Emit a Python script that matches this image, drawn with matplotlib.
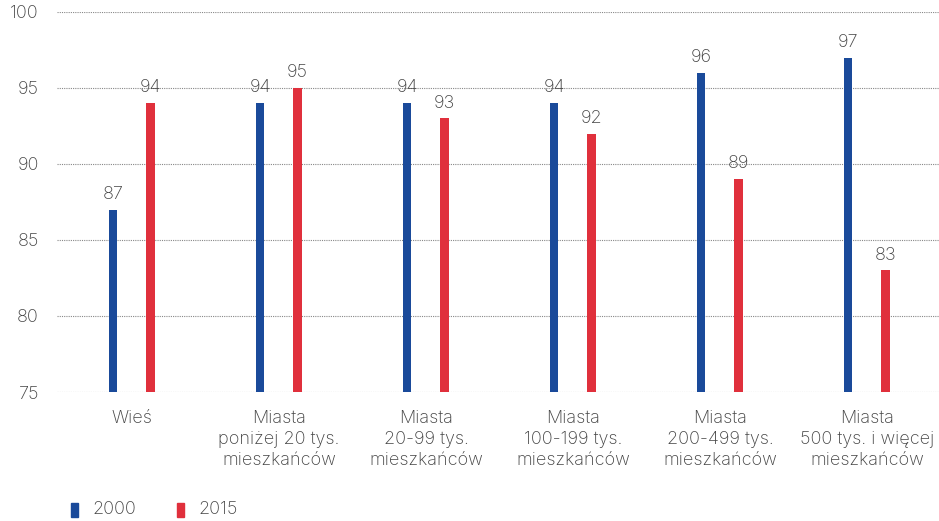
import matplotlib.pyplot as plt
import numpy as np

categories = ['Wieś', 'Miasta\nponiżej 20 tys.\nmieszkańców', 'Miasta\n20-99 tys.\nmieszkańców',
              'Miasta\n100-199 tys.\nmieszkańców', 'Miasta\n200-499 tys.\nmieszkańców',
              'Miasta\n500 tys. i więcej\nmieszkańców']
values_2000 = [87, 94, 94, 94, 96, 97]
values_2015 = [94, 95, 93, 92, 89, 83]
series_labels = ['2000', '2015']

blue = '#1a4a9a'
red = '#e0303c'
txt = '#444444'
plt.rcParams['font.family'] = ['Inter', 'DejaVu Sans']
plt.rcParams['font.weight'] = 'light'
fs = 13

fig = plt.figure(figsize=(9.39, 5.21), dpi=100)
ax = fig.add_axes([0.0607, 0.2476, 0.9393, 0.7294])

x = np.arange(len(categories))
off = 0.126
w = 0.055
ax.bar(x - off, np.array(values_2000) - 75, w, bottom=75, color=blue, zorder=3)
ax.bar(x + off, np.array(values_2015) - 75, w, bottom=75, color=red, zorder=3)
for xi, v in zip(x, values_2000):
    ax.text(xi - off, v + 0.45, str(v), ha='center', va='bottom', fontsize=fs, color=txt)
for xi, v in zip(x, values_2015):
    ax.text(xi + off, v + 0.45, str(v), ha='center', va='bottom', fontsize=fs, color=txt)

ax.set_ylim(75, 100)
ax.set_xlim(-0.51, 5.49)
ax.set_yticks([75, 80, 85, 90, 95, 100])
ax.yaxis.grid(True, linestyle=(0, (1, 1)), color='#888888', linewidth=0.8, zorder=0)
for s in ax.spines.values():
    s.set_visible(False)
ax.tick_params(axis='y', length=0, pad=13, labelsize=fs, labelcolor=txt)
ax.set_xticks(x)
ax.set_xticklabels(categories, fontsize=fs, color=txt, linespacing=1.3)
ax.tick_params(axis='x', length=0, pad=13)

# legend
fig.patches.append(plt.Rectangle((71 / 939, 1 - 517 / 521), 7 / 939, 14 / 521,
                                 transform=fig.transFigure, color=blue))
fig.text(92 / 939, 1 - 510 / 521, series_labels[0], fontsize=fs, color=txt, va='center')
fig.patches.append(plt.Rectangle((177 / 939, 1 - 517 / 521), 7 / 939, 14 / 521,
                                 transform=fig.transFigure, color=red))
fig.text(198 / 939, 1 - 510 / 521, series_labels[1], fontsize=fs, color=txt, va='center')

fig.savefig('out.png', dpi=100)
